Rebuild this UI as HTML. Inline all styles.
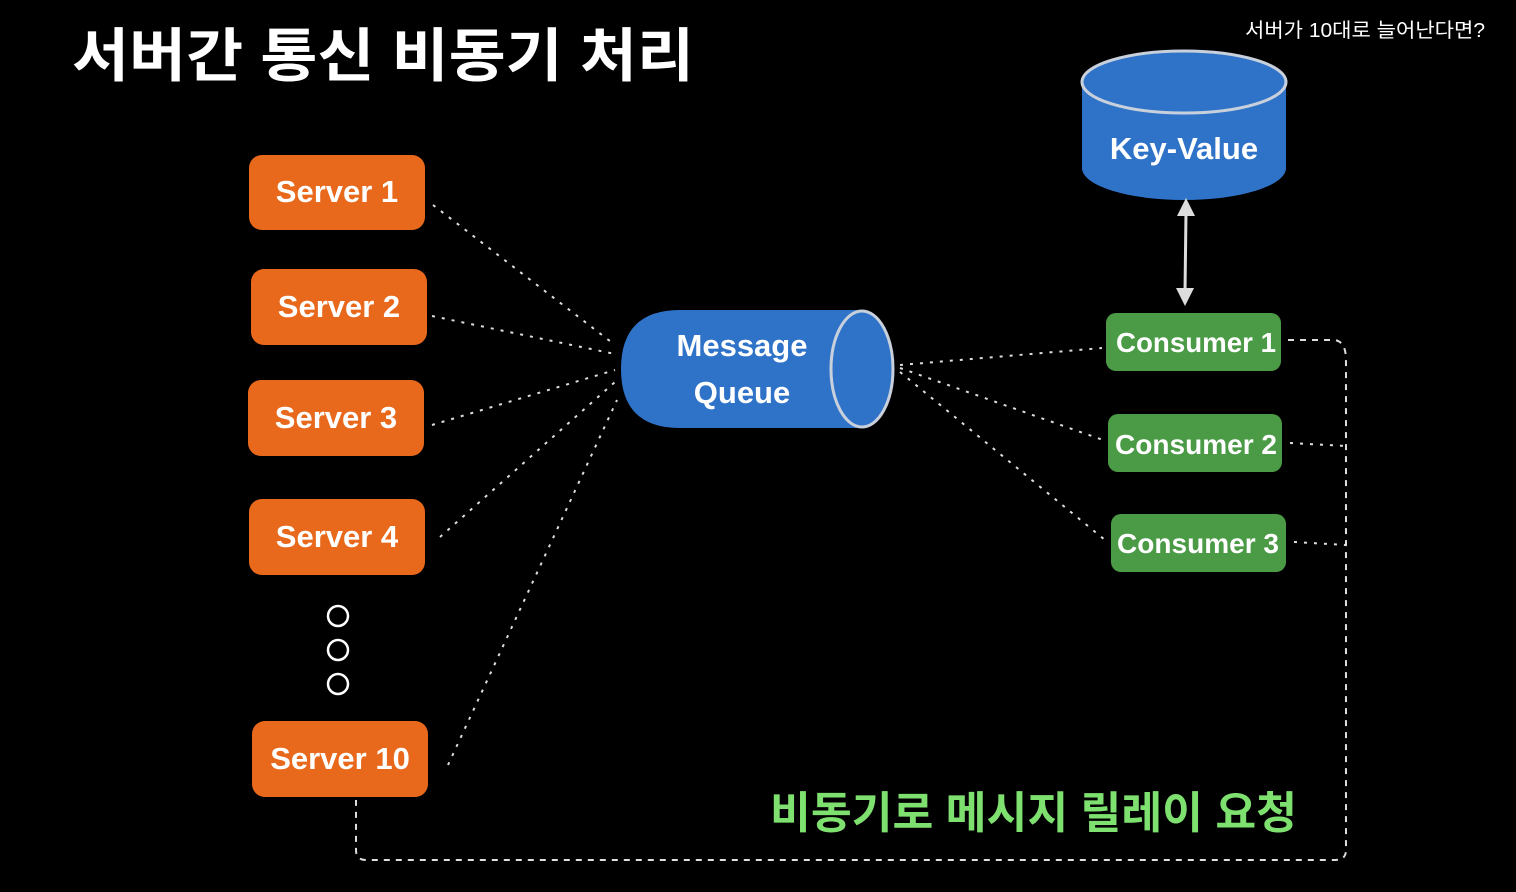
<!DOCTYPE html>
<html><head><meta charset="utf-8"><style>
html,body{margin:0;padding:0;background:#000;}
svg{display:block}
text{font-family:"Liberation Sans","Noto Sans CJK KR",sans-serif;font-weight:bold;}
</style></head><body>
<svg width="1516" height="892" viewBox="0 0 1516 892" xmlns="http://www.w3.org/2000/svg">
<rect width="1516" height="892" fill="#000"/>
<text x="72" y="76" font-size="58" fill="#fff" textLength="622" lengthAdjust="spacingAndGlyphs">서버간 통신 비동기 처리</text>
<text x="1245" y="37" font-size="20" fill="#fff" style="font-weight:normal" textLength="240" lengthAdjust="spacingAndGlyphs">서버가 10대로 늘어난다면?</text>

<g stroke="#ddd" stroke-width="2" stroke-dasharray="3,7" fill="none">
<line x1="433" y1="205" x2="615" y2="345"/>
<line x1="432" y1="316" x2="615" y2="354"/>
<line x1="432" y1="425" x2="615" y2="370"/>
<line x1="440" y1="537" x2="615" y2="382"/>
<line x1="448" y1="765" x2="617" y2="400"/>
<line x1="900" y1="365" x2="1102" y2="348"/>
<line x1="900" y1="368" x2="1103" y2="440"/>
<line x1="900" y1="372" x2="1105" y2="540"/>
<line x1="1290" y1="443" x2="1346" y2="446"/>
<line x1="1294" y1="542" x2="1346" y2="545"/>
</g>
<path d="M1288 340 H1335 Q1346 342 1346 360 V850 Q1346 860 1335 860 H366 Q356 860 356 850 V800" stroke="#ddd" stroke-width="2" stroke-dasharray="6,6" fill="none"/>

<g fill="#e8681c">
<rect x="249" y="155" width="176" height="75" rx="13"/>
<rect x="251" y="269" width="176" height="76" rx="13"/>
<rect x="248" y="380" width="176" height="76" rx="13"/>
<rect x="249" y="499" width="176" height="76" rx="13"/>
<rect x="252" y="721" width="176" height="76" rx="13"/>
</g>
<g fill="#fff" font-size="31" text-anchor="middle">
<text x="337" y="202">Server 1</text>
<text x="339" y="317">Server 2</text>
<text x="336" y="428">Server 3</text>
<text x="337" y="547">Server 4</text>
<text x="340" y="769">Server 10</text>
</g>
<g fill="none" stroke="#fff" stroke-width="2.5">
<circle cx="338" cy="616" r="10"/>
<circle cx="338" cy="650" r="10"/>
<circle cx="338" cy="684" r="10"/>
</g>

<path d="M680 310 H862 V428 H680 Q621 428 621 369 Q621 310 680 310 Z" fill="#2f73c9"/>
<ellipse cx="862" cy="369" rx="31" ry="58" fill="#2f73c9" stroke="#c8d0dc" stroke-width="3"/>
<g fill="#fff" font-size="31" text-anchor="middle">
<text x="742" y="356">Message</text>
<text x="742" y="403">Queue</text>
</g>

<path d="M1082 82 V168 A102 32 0 0 0 1286 168 V82 Z" fill="#2f73c9"/>
<ellipse cx="1184" cy="82" rx="102" ry="31" fill="#2f73c9" stroke="#c8d0dc" stroke-width="3"/>
<text x="1184" y="159" font-size="31" fill="#fff" text-anchor="middle">Key-Value</text>
<line x1="1186" y1="212" x2="1185" y2="292" stroke="#ddd" stroke-width="3"/>
<polygon points="1186,198 1177,216 1195,216" fill="#ddd"/>
<polygon points="1185,306 1176,288 1194,288" fill="#ddd"/>

<g fill="#4a9a46">
<rect x="1106" y="313" width="175" height="58" rx="10"/>
<rect x="1108" y="414" width="174" height="58" rx="10"/>
<rect x="1111" y="514" width="175" height="58" rx="10"/>
</g>
<g fill="#fff" font-size="28" text-anchor="middle">
<text x="1196" y="352" textLength="160" lengthAdjust="spacingAndGlyphs">Consumer 1</text>
<text x="1196" y="454" textLength="162" lengthAdjust="spacingAndGlyphs">Consumer 2</text>
<text x="1198" y="553" textLength="162" lengthAdjust="spacingAndGlyphs">Consumer 3</text>
</g>

<text x="770" y="828" font-size="44" fill="#7ee06e" textLength="527" lengthAdjust="spacingAndGlyphs">비동기로 메시지 릴레이 요청</text>
</svg>
</body></html>
